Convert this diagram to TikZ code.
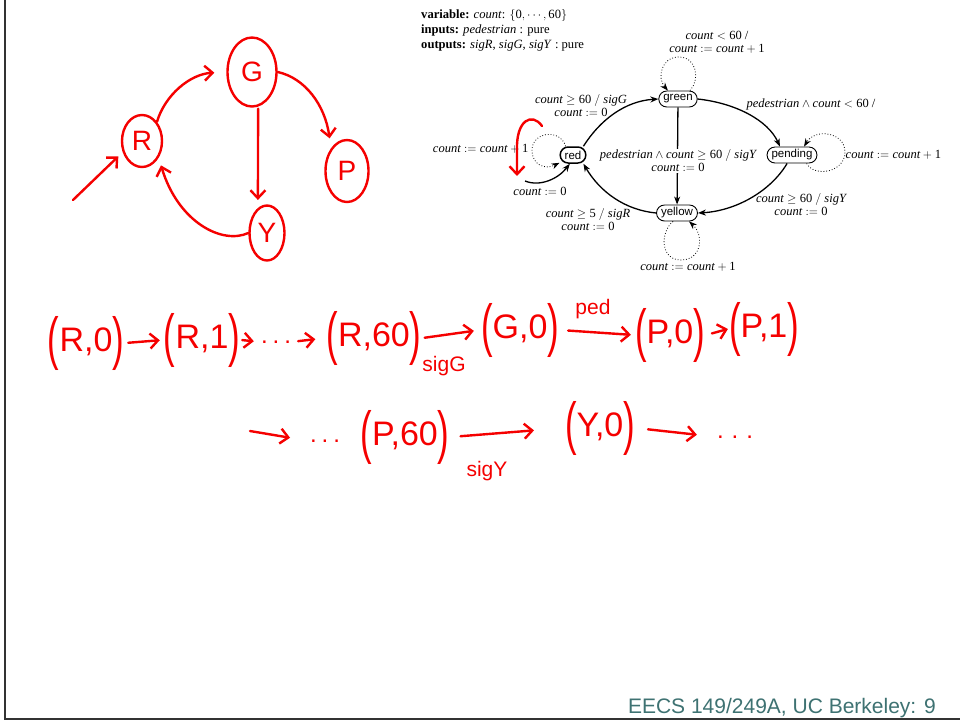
\documentclass[tikz,border=0pt]{standalone}
\usepackage{fontspec}
\setmainfont{Liberation Serif}
\setsansfont{Liberation Sans}
\newfontfamily\handfont{Liberation Sans}
\usetikzlibrary{arrows.meta,shapes.geometric}
\definecolor{footteal}{RGB}{62,114,114}
\definecolor{inkred}{RGB}{245,0,0}
\newcommand{\hpar}[1]{\raisebox{-7pt}{\scalebox{0.6}[1]{\fontsize{58}{58}\selectfont #1}}}
\newcommand{\cv}{\mathit{count}}
\newcommand{\nm}[1]{\mathrm{#1}}
\begin{document}
\begin{tikzpicture}[x=1pt,y=-1pt,
  st/.style={draw,rounded corners=8pt,minimum height=16pt,inner xsep=4.5pt,inner ysep=0pt,font=\sffamily\fontsize{11.5}{11.5}\selectfont,line width=0.9pt},
  tr/.style={-{Stealth[length=8pt,width=6pt]},line width=1.3pt},
  lp/.style={dotted,line width=0.8pt,-{Stealth[length=8pt,width=6pt]}},
  lab/.style={font=\fontsize{12.5}{13}\selectfont,align=center,inner sep=0.5pt},
  ink/.style={draw=inkred,line width=2.4pt,line cap=round,line join=round},
  inkarr/.style={ink,-{Straight Barb[length=8pt,width=15pt]}},
  ring/.style={ink,ellipse,inner sep=0pt,text=inkred,font=\handfont\fontsize{28}{28}\selectfont},
  hand/.style={text=inkred,font=\handfont\fontsize{34}{34}\selectfont,inner sep=1pt},
  handsm/.style={text=inkred,font=\handfont\fontsize{21}{21}\selectfont,inner sep=0pt},
  dots/.style={text=inkred,font=\handfont\fontsize{24}{24}\selectfont,inner sep=2pt,anchor=base},
  gap/.style={shorten <=3pt,shorten >=3pt}
]
\useasboundingbox (0,0) rectangle (960,721);
\fill[white] (0,0) rectangle (960,721);
% slide frame
\draw[line width=2pt,black!80] (5,0) -- (5,719) -- (960,719);
\node[anchor=base east,text=footteal,font=\sffamily\fontsize{21}{21}\selectfont,inner sep=0pt] (foot) at (936,713) {EECS 149/249A, UC Berkeley: 9};

% header
\node[anchor=north west,align=left,font=\fontsize{12.6}{15}\selectfont,inner sep=0pt] (hdr) at (421,9)
 {\textbf{variable:} \textit{count}: $\{\nm{0},\cdots,\nm{60}\}$\\
  \textbf{inputs:} \textit{pedestrian} : pure\\
  \textbf{outputs:} \textit{sigR}, \textit{sigG}, \textit{sigY} : pure};

% states
\node[st] (green) at (678,99) {green};
\node[st,line width=1.5pt] (red) at (573,155) {red};
\node[st] (pending) at (792,155) {pending};
\node[st] (yellow) at (677,213) {yellow};
\coordinate (init) at (525,181);

% transitions
\draw[tr] (red.40) .. controls (600,120) and (625,101) .. (green.west);
\draw[tr] (green.east) .. controls (735,103) and (768,120) .. (pending.145);
\draw[tr] (pending.-120) .. controls (770,192) and (735,211) .. (yellow.east);
\draw[tr] (yellow.west) .. controls (625,210) and (600,192) .. (red.-40);
\draw[tr] (init) .. controls (540,187) and (558,179) .. (red.-110);
\draw[tr] (green) -- (yellow);
% self loops
\draw[lp] (red.130) .. controls (560,128) and (532,132) .. (532,150) .. controls (532,165) and (545,170) .. (red.-150);
\draw[lp] (green.35) .. controls (700,80) and (697,57) .. (679,57) .. controls (661,57) and (657,78) .. (green.140);
\draw[lp] (pending.-30) .. controls (815,178) and (845,172) .. (845,152) .. controls (845,132) and (815,128) .. (pending.35);
\draw[lp] (yellow.-115) .. controls (660,232) and (660,260) .. (681,260) .. controls (702,260) and (704,235) .. (yellow.-35);

% labels
\node[lab] (l1) at (717,42) {$\cv < \nm{60}$ /\\ $\cv := \cv + \nm{1}$};
\node[lab] (l2) at (581,106) {$\cv \geq \nm{60}\ /\ \mathit{sigG}$\\ $\cv := \nm{0}$};
\node[lab,anchor=east] (l3) at (529,149) {$\cv := \cv + \nm{1}$};
\node[lab] (l4) at (540,191) {$\cv := \nm{0}$};
\node[lab,fill=white] (l5) at (678,161) {$\mathit{pedestrian} \wedge \cv \geq \nm{60}\ /\ \mathit{sigY}$\\ $\cv := \nm{0}$};
\node[lab] (l6) at (811,104) {$\mathit{pedestrian} \wedge \cv < \nm{60}$ /};
\node[lab,anchor=west] (l7) at (845,155) {$\cv := \cv + \nm{1}$};
\node[lab] (l8) at (801,205) {$\cv \geq \nm{60}\ /\ \mathit{sigY}$\\ $\cv := \nm{0}$};
\node[lab] (l9) at (588,220) {$\cv \geq \nm{5}\ /\ \mathit{sigR}$\\ $\cv := \nm{0}$};
\node[lab] (l10) at (688,267) {$\cv := \cv + \nm{1}$};

% ---------- handwritten annotations ----------
\node[ring,minimum width=40pt,minimum height=52pt] (R) at (142,141) {R};
\node[ring,minimum width=49pt,minimum height=69pt] (G) at (252,72) {G};
\node[ring,minimum width=43pt,minimum height=62pt] (P) at (347,171) {P};
\node[ring,minimum width=35pt,minimum height=55pt] (Y) at (267,233) {Y};
\coordinate (hinit) at (73,200);
\draw[inkarr,shorten >=12pt] (R.north east) .. controls (165,95) and (190,74) .. (G.west);
\draw[inkarr,shorten >=10pt] (G.east) .. controls (305,78) and (325,105) .. (P.north west);
\draw[inkarr,shorten >=8pt,shorten <=2pt] (G.-80) -- (Y.110);
\draw[inkarr,shorten >=8pt] (Y.west) .. controls (222,245) and (178,222) .. (R.-45);
\draw[inkarr,shorten >=6pt] (hinit) -- (R.-150);
% scribble over red self loop
\coordinate (sa) at (542,126);
\coordinate (sb) at (517,176);
\draw[inkarr] (sa) .. controls (532,112) and (516,120) .. (517,150) -- (sb);

% row 1
\node[hand] (t1) at (86,343) {\hpar(R,0\hpar)};
\node[hand] (t2) at (202,340) {\hpar(R,1\hpar)};
\node[dots] (d1) at (276,343) {.\hspace{5pt}.\hspace{5pt}.};
\node[hand] (t3) at (374,338) {\hpar(R,60\hpar)};
\node[hand] (t4) at (520,330) {\hpar(G,0\hpar)};
\node[hand] (t5) at (670,335) {\hpar(P,0\hpar)};
\node[hand] (t6) at (764,329) {\hpar(P,1\hpar)};
\draw[inkarr,gap] (t1.east) -- (t2.west);
\draw[inkarr,shorten <=1pt,shorten >=5pt] (t2.east) -- (d1.west);
\draw[inkarr,shorten <=5pt,shorten >=10pt] (d1.east) -- (t3.west);
\draw[inkarr,shorten <=2pt,shorten >=6pt] (t3.east) -- (t4.west);
\draw[inkarr,shorten <=8pt,shorten >=3pt] (t4.east) -- (t5.west);
\draw[inkarr,shorten <=6pt,shorten >=0pt] (t5.east) -- (t6.west);
\node[handsm] (lsg) at (444,366) {sigG};
\node[handsm] (lped) at (593,309) {ped};

% row 2
\coordinate (s2) at (250,431);
\node[dots] (d2) at (325,442) {.\hspace{5pt}.\hspace{5pt}.};
\node[hand] (t7) at (405,437) {\hpar(P,60\hpar)};
\node[hand] (t8) at (600,428) {\hpar(Y,0\hpar)};
\node[dots] (d3) at (735,438) {.\hspace{8pt}.\hspace{8pt}.};
\draw[inkarr,shorten >=18pt] (s2) -- (d2.west);
\draw[inkarr,shorten <=10pt,shorten >=30pt] (t7.east) -- (t8.west);
\draw[inkarr,shorten <=12pt,shorten >=18pt] (t8.east) -- (d3.west);
\node[handsm] (lsy) at (487,471) {sigY};
\end{tikzpicture}
\end{document}
